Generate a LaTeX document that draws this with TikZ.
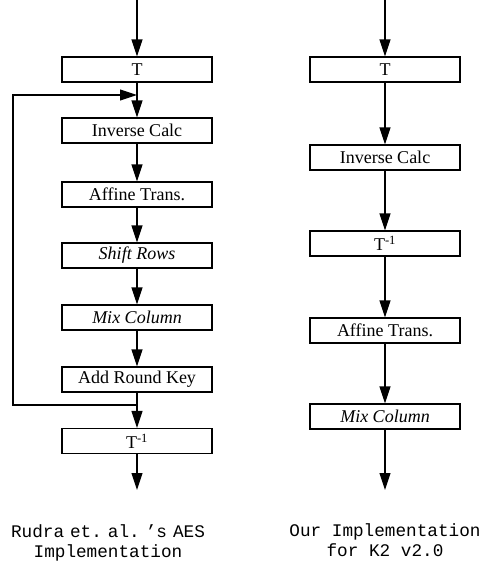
\documentclass[tikz,border=0pt]{standalone}
\usepackage{fontspec}
\setmainfont{Liberation Serif}
\setmonofont{Liberation Mono}
\usetikzlibrary{arrows.meta}

\begin{document}
\begin{tikzpicture}[x=1pt, y=-1pt, line width=1.1pt,
        >={Triangle[length=17pt,width=11pt]},
        blk/.style={draw, minimum width=150pt, minimum height=25pt, inner sep=0pt,
            font=\fontsize{18}{20}\selectfont},
        captxt/.style={align=center, font=\ttfamily\fontsize{17.7}{20.5}\selectfont}]
        \useasboundingbox (0,0) rectangle (485,562);

        % left: Rudra et al.
        \coordinate (lin) at (137, 0);
        \node[blk] at (137, 69.5)(lT){T};
        \node[blk] at (137, 130.5)(lInv){Inverse Calc};
        \node[blk] at (137, 194.5)(lAff){Affine Trans.};
        \node[blk] at (137, 255.5)(lShift){\itshape Shift Rows};
        \node[blk] at (137, 317.5)(lMix){\itshape Mix Column};
        \node[blk] at (137, 379.5)(lAdd){Add Round Key};
        \node[blk] at (137, 441)(lTi){T\textsuperscript{-1}};
        \coordinate (lout) at (137, 490);
        \coordinate (lsplit) at (137, 405);
        \coordinate (lcornB) at (13, 405);
        \coordinate (lcornT) at (13, 95);
        \coordinate (lmerge) at (137, 95);

        \path[->]
        (lin)edge(lT)
        (lT)edge(lInv)
        (lInv)edge(lAff)
        (lAff)edge(lShift)
        (lShift)edge(lMix)
        (lMix)edge(lAdd)
        (lAdd)edge(lTi)
        (lTi)edge(lout)
        ;
        \draw[->] (lsplit) -- (lcornB) -- (lcornT) -- (lmerge);

        % right: K2 v2.0
        \coordinate (rin) at (385, 0);
        \node[blk] at (385, 69.5)(rT){T};
        \node[blk] at (385, 157.5)(rInv){Inverse Calc};
        \node[blk] at (385, 243.5)(rTi){T\textsuperscript{-1}};
        \node[blk] at (385, 330.5)(rAff){Affine Trans.};
        \node[blk] at (385, 416.5)(rMix){\itshape Mix Column};
        \coordinate (rout) at (385, 490);

        \path[->]
        (rin)edge(rT)
        (rT)edge(rInv)
        (rInv)edge(rTi)
        (rTi)edge(rAff)
        (rAff)edge(rMix)
        (rMix)edge(rout)
        ;

        % captions
        \node[captxt] at (108, 543)(lcap){Rudra\hspace{6pt}et.\hspace{6pt}al.\hspace{6pt}’s\hspace{6pt}AES\\Implementation};
        \node[captxt] at (385, 540)(rcap){Our Implementation\\for K2 v2.0};
    \end{tikzpicture}
\end{document}
